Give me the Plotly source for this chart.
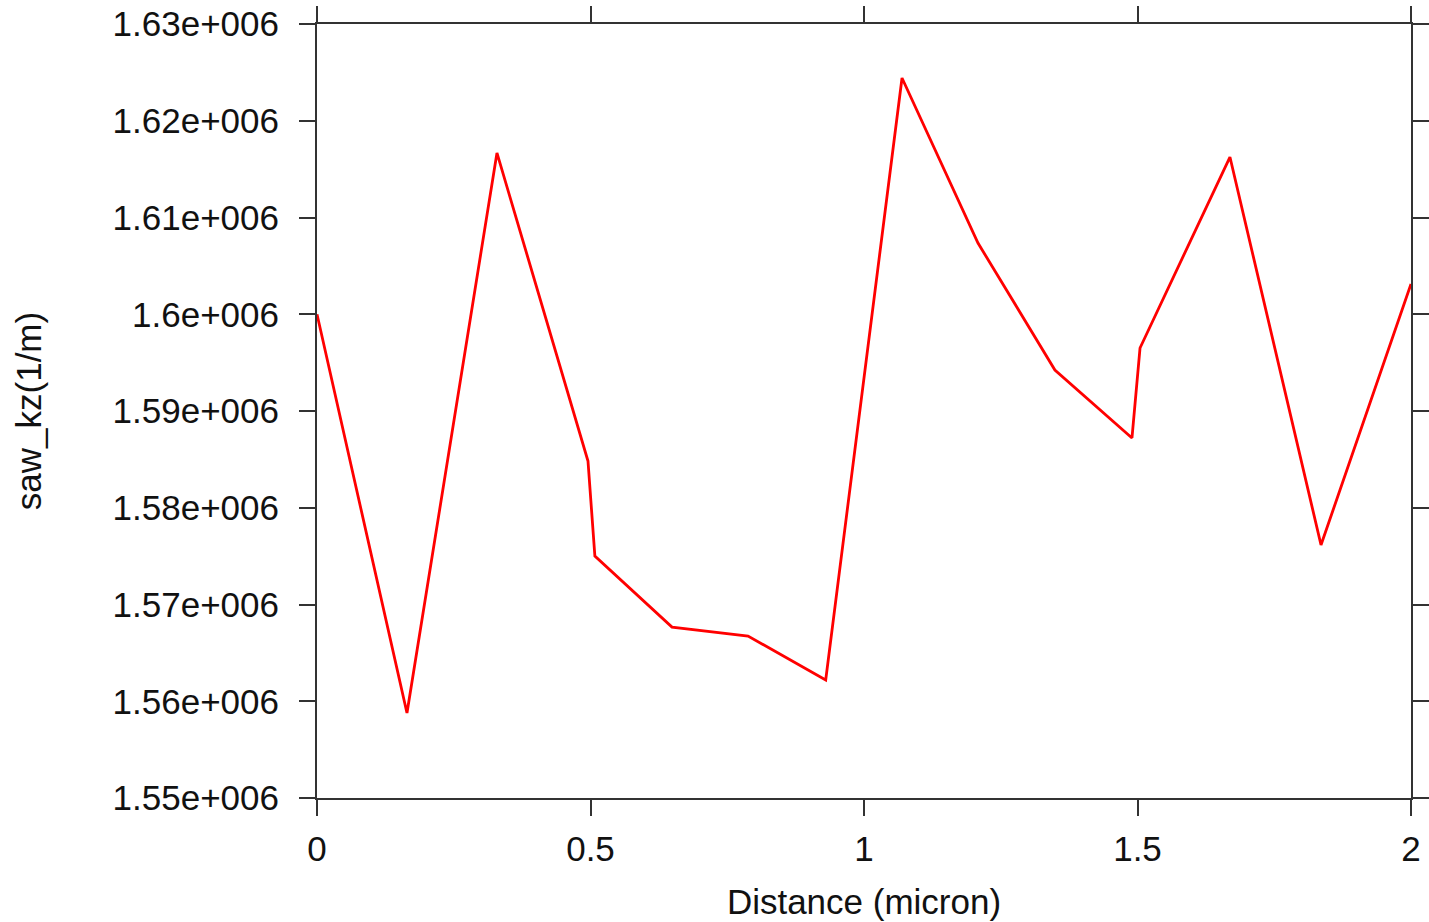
import plotly.graph_objects as go

distance_micron = [0.0, 0.1645, 0.329, 0.4954, 0.508, 0.649, 0.788, 0.930, 1.0695,
                   1.2084, 1.349, 1.4899, 1.5046, 1.669, 1.8355, 2.0]
saw_kz = [1.60000e6, 1.55879e6, 1.61667e6, 1.58483e6, 1.57501e6, 1.56767e6, 1.56674e6,
          1.56220e6, 1.62442e6, 1.60736e6, 1.59424e6, 1.58721e6, 1.59651e6, 1.61625e6,
          1.57615e6, 1.60313e6]

x_tickvals = [0, 0.5, 1, 1.5, 2]
x_ticktext = ["0", "0.5", "1", "1.5", "2"]
y_tickvals = [1.55e6, 1.56e6, 1.57e6, 1.58e6, 1.59e6, 1.60e6, 1.61e6, 1.62e6, 1.63e6]
y_ticktext = ["1.55e+006", "1.56e+006", "1.57e+006", "1.58e+006", "1.59e+006",
              "1.6e+006", "1.61e+006", "1.62e+006", "1.63e+006"]

fig = go.Figure()
fig.add_trace(go.Scatter(x=distance_micron, y=saw_kz, mode="lines",
                         line=dict(color="#ff0000", width=2.8), showlegend=False))

font_family = "Liberation Sans, Arial, sans-serif"
axis_common = dict(showgrid=False, zeroline=False, showline=True, linecolor="#333333",
                   linewidth=2, ticks="outside", ticklen=16, tickwidth=2,
                   tickcolor="#333333", mirror="ticks", automargin=False,
                   tickfont=dict(family=font_family, size=35, color="#111111"))

fig.update_layout(
    width=1429, height=922,
    margin=dict(l=317, r=18, t=24, b=124),
    paper_bgcolor="white", plot_bgcolor="white",
    xaxis=dict(range=[0, 2], tickvals=x_tickvals, ticktext=x_ticktext,
               title=dict(text="Distance (micron)", standoff=22,
                          font=dict(family=font_family, size=35, color="#111111")),
               ticklabelstandoff=3, **axis_common),
    yaxis=dict(range=[1.55e6, 1.63e6], tickvals=y_tickvals, ticktext=y_ticktext,
               title=dict(text="saw_kz(1/m)", standoff=60,
                          font=dict(family=font_family, size=35, color="#111111")),
               ticklabelstandoff=13, **axis_common),
)

fig.write_html("out.html")
